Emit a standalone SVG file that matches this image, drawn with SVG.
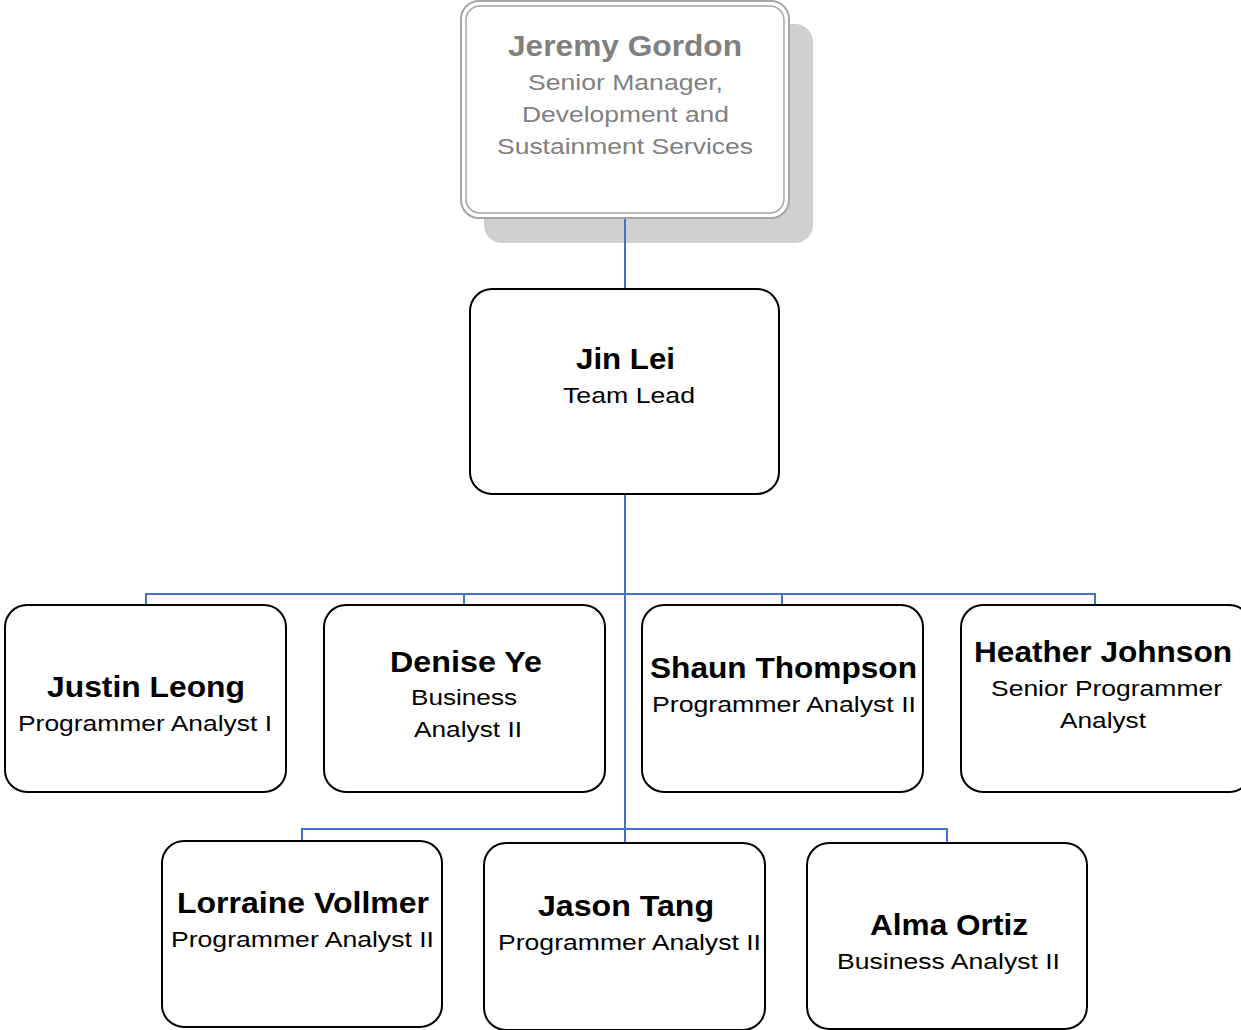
<svg xmlns="http://www.w3.org/2000/svg" width="1241" height="1030" viewBox="0 0 1241 1030">
<style>
.box{fill:#fff;stroke:#000;stroke-width:2}
.nm{font-family:"Liberation Sans",Arial,sans-serif;font-weight:bold;font-size:30px;text-anchor:middle;fill:#000}
.tl{font-family:"Liberation Sans",Arial,sans-serif;font-size:22.5px;text-anchor:middle;fill:#000}
.g{fill:#808080}
.conn{fill:none;stroke:#4472C4;stroke-width:2}
</style>
<rect width="1241" height="1030" fill="#fff"/>
<g id="jeremy-gordon">
<rect x="484" y="24" width="329" height="219" rx="18" fill="#d0d0d0"/>
<rect x="461" y="1" width="328" height="217" rx="18" fill="#fff" stroke="#a6a6a6" stroke-width="2"/>
<rect x="466" y="6" width="318" height="207" rx="14" fill="none" stroke="#a6a6a6" stroke-width="1.5"/>
<text class="nm g" x="625" y="56" textLength="234" lengthAdjust="spacingAndGlyphs">Jeremy Gordon</text>
<text class="tl g" x="625.5" y="90" textLength="195" lengthAdjust="spacingAndGlyphs">Senior Manager,</text>
<text class="tl g" x="625.5" y="122" textLength="207" lengthAdjust="spacingAndGlyphs">Development and</text>
<text class="tl g" x="625" y="154" textLength="256" lengthAdjust="spacingAndGlyphs">Sustainment Services</text>
</g>
<g id="jin-lei">
<rect class="box" x="470" y="289" width="309" height="205" rx="22"/>
<text class="nm" x="625.5" y="369" textLength="99" lengthAdjust="spacingAndGlyphs">Jin Lei</text>
<text class="tl" x="629" y="403" textLength="132" lengthAdjust="spacingAndGlyphs">Team Lead</text>
</g>
<g id="justin-leong">
<rect class="box" x="5" y="605" width="281" height="187" rx="22"/>
<text class="nm" x="146" y="697" textLength="198" lengthAdjust="spacingAndGlyphs">Justin Leong</text>
<text class="tl" x="145" y="731" textLength="254" lengthAdjust="spacingAndGlyphs">Programmer Analyst I</text>
</g>
<g id="denise-ye">
<rect class="box" x="324" y="605" width="281" height="187" rx="22"/>
<text class="nm" x="466" y="672" textLength="152" lengthAdjust="spacingAndGlyphs">Denise Ye</text>
<text class="tl" x="464" y="705" textLength="106" lengthAdjust="spacingAndGlyphs">Business</text>
<text class="tl" x="468" y="737" textLength="108" lengthAdjust="spacingAndGlyphs">Analyst II</text>
</g>
<g id="shaun-thompson">
<rect class="box" x="642" y="605" width="281" height="187" rx="22"/>
<text class="nm" x="783.5" y="678" textLength="267" lengthAdjust="spacingAndGlyphs">Shaun Thompson</text>
<text class="tl" x="784" y="712" textLength="264" lengthAdjust="spacingAndGlyphs">Programmer Analyst II</text>
</g>
<g id="heather-johnson">
<rect class="box" x="961" y="605" width="290" height="187" rx="22"/>
<text class="nm" x="1103" y="662" textLength="258" lengthAdjust="spacingAndGlyphs">Heather Johnson</text>
<text class="tl" x="1106.5" y="696" textLength="231" lengthAdjust="spacingAndGlyphs">Senior Programmer</text>
<text class="tl" x="1103" y="728" textLength="86" lengthAdjust="spacingAndGlyphs">Analyst</text>
</g>
<g id="lorraine-vollmer">
<rect class="box" x="162" y="841" width="280" height="186" rx="22"/>
<text class="nm" x="303" y="913" textLength="252" lengthAdjust="spacingAndGlyphs">Lorraine Vollmer</text>
<text class="tl" x="302.5" y="947" textLength="263" lengthAdjust="spacingAndGlyphs">Programmer Analyst II</text>
</g>
<g id="jason-tang">
<rect class="box" x="484" y="843" width="281" height="187" rx="22"/>
<text class="nm" x="626" y="916" textLength="176" lengthAdjust="spacingAndGlyphs">Jason Tang</text>
<text class="tl" x="629.5" y="950" textLength="263" lengthAdjust="spacingAndGlyphs">Programmer Analyst II</text>
</g>
<g id="alma-ortiz">
<rect class="box" x="807" y="843" width="280" height="186" rx="22"/>
<text class="nm" x="949" y="935" textLength="158" lengthAdjust="spacingAndGlyphs">Alma Ortiz</text>
<text class="tl" x="948.5" y="969" textLength="223" lengthAdjust="spacingAndGlyphs">Business Analyst II</text>
</g>
<g id="connectors">
<path class="conn" d="M625 219V288"/>
<path class="conn" d="M625 495V842"/>
<path class="conn" d="M146 604V594H1095V604"/>
<path class="conn" d="M464 594V604M782 594V604"/>
<path class="conn" d="M302 840V829H947V842"/>
</g>
</svg>
